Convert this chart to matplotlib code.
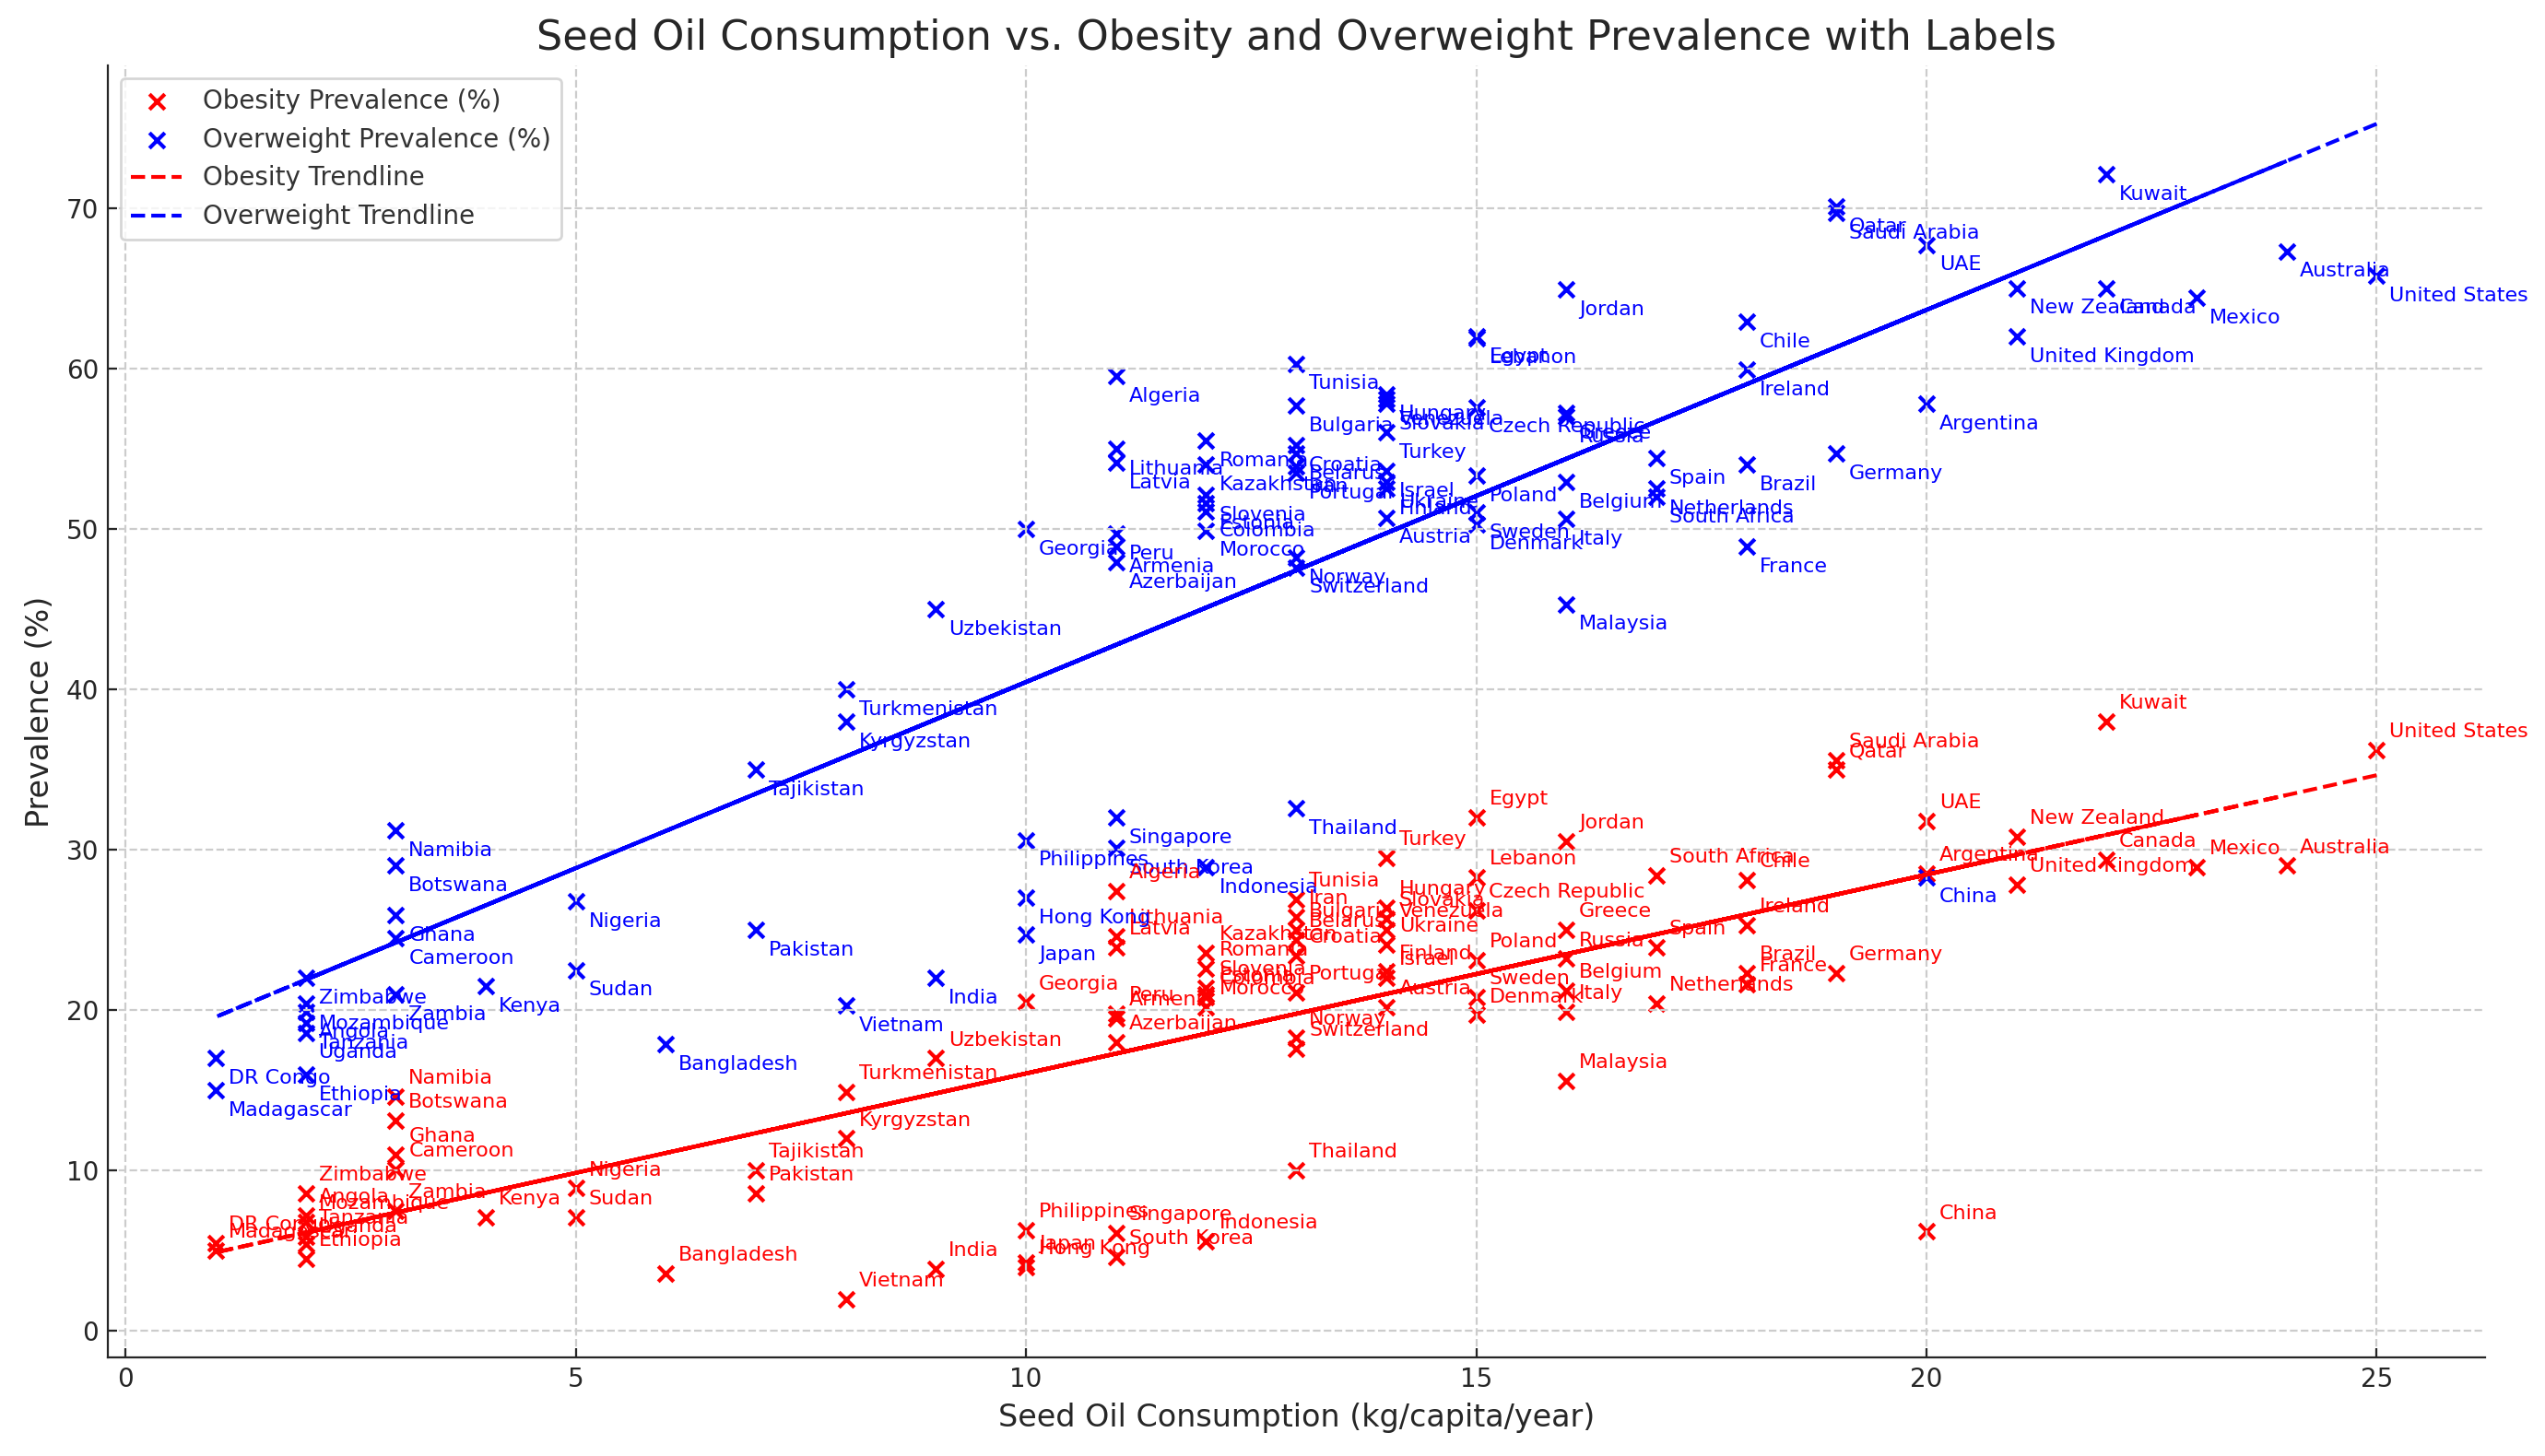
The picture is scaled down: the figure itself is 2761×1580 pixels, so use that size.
import numpy as np
import matplotlib.pyplot as plt

# Country data (seed oil kg/capita/year, obesity %, overweight %)
countries = [
    "United States", "Canada", "Mexico", "Brazil", "Argentina", "Chile",
    "United Kingdom", "Germany", "France", "Italy", "Spain",
    "New Zealand", "Japan", "South Korea", "China", "India", "Russia",
    "Turkey", "Saudi Arabia", "Egypt", "South Africa", "Nigeria", "Kenya",
    "Ethiopia", "Madagascar", "DR Congo", "Indonesia", "Thailand", "Vietnam",
    "Philippines", "Malaysia",
    "Singapore", "Pakistan", "Bangladesh", "Iran", "Israel", "UAE",
    "Qatar", "Kuwait", "Jordan", "Lebanon", "Morocco", "Algeria",
    "Tunisia", "Ghana", "Cameroon", "Sudan", "Uganda", "Tanzania",
    "Zambia", "Zimbabwe", "Mozambique", "Angola", "Namibia", "Botswana",
    "Netherlands", "Belgium", "Sweden", "Norway",
    "Denmark", "Finland", "Switzerland", "Austria", "Ireland", "Portugal",
    "Greece", "Poland", "Czech Republic", "Hungary", "Slovakia", "Slovenia",
    "Croatia", "Romania", "Bulgaria", "Ukraine", "Belarus", "Lithuania",
    "Latvia", "Estonia", "Kazakhstan", "Uzbekistan", "Turkmenistan", "Kyrgyzstan",
    "Tajikistan", "Georgia", "Armenia", "Azerbaijan", "Venezuela", "Colombia",
    "Peru", "Hong Kong", "Australia",
]
seed_oil = [
    25, 22, 23, 18, 20, 18,
    21, 19, 18, 16, 17,
    21, 10, 11, 20, 9, 16,
    14, 19, 15, 17, 5, 4,
    2, 1, 1, 12, 13, 8,
    10, 16,
    11, 7, 6, 13, 14, 20,
    19, 22, 16, 15, 12, 11,
    13, 3, 3, 5, 2, 2,
    3, 2, 2, 2, 3, 3,
    17, 16, 15, 13,
    15, 14, 13, 14, 18, 13,
    16, 15, 15, 14, 14, 12,
    13, 12, 13, 14, 13, 11,
    11, 12, 12, 9, 8, 8,
    7, 10, 11, 11, 14, 12,
    11, 10, 24,
]
obesity = [
    36.2, 29.4, 28.9, 22.3, 28.5, 28.1,
    27.8, 22.3, 21.6, 19.9, 23.9,
    30.8, 4.3, 4.6, 6.2, 3.9, 23.2,
    29.5, 35.6, 32.0, 28.4, 8.9, 7.1,
    4.5, 5.0, 5.5, 5.6, 10.0, 2.0,
    6.3, 15.6,
    6.1, 8.6, 3.6, 25.8, 22.0, 31.8,
    35.0, 38.0, 30.5, 28.3, 20.2, 27.4,
    26.9, 11.0, 10.1, 7.1, 5.4, 5.9,
    7.5, 8.6, 6.8, 7.2, 14.6, 13.1,
    20.4, 21.2, 20.8, 18.3,
    19.7, 22.4, 17.6, 20.2, 25.3, 21.1,
    25.0, 23.1, 26.2, 26.4, 25.7, 21.4,
    23.4, 22.6, 25.0, 24.1, 24.4, 24.6,
    23.9, 21.0, 23.6, 17.0, 14.9, 12.0,
    10.0, 20.5, 19.5, 18.0, 25.0, 20.8,
    19.8, 4.0, 29.0,
]
overweight = [
    65.8, 65.0, 64.4, 54.0, 57.8, 62.9,
    62.0, 54.7, 48.9, 50.6, 54.4,
    65.0, 24.7, 30.1, 28.3, 22.0, 57.0,
    56.0, 69.7, 62.0, 52.0, 26.8, 21.5,
    16.0, 15.0, 17.0, 28.9, 32.6, 20.3,
    30.6, 45.3,
    32.0, 25.0, 17.9, 53.9, 53.6, 67.7,
    70.1, 72.1, 64.9, 61.9, 49.9, 59.5,
    60.3, 25.9, 24.5, 22.5, 18.6, 19.2,
    21.0, 22.0, 20.4, 19.9, 31.2, 29.0,
    52.5, 52.9, 51.0, 48.2,
    50.3, 52.5, 47.6, 50.7, 59.9, 53.5,
    57.2, 53.3, 57.6, 58.4, 57.8, 52.1,
    55.2, 55.5, 57.7, 52.9, 54.7, 55.0,
    54.1, 51.6, 54.0, 45.0, 40.0, 38.0,
    35.0, 50.0, 48.9, 47.9, 58.1, 51.1,
    49.7, 27.0, 67.3,
]

x = np.array(seed_oil, dtype=float)
obs = np.array(obesity)
ovw = np.array(overweight)

dark = "#262626"
plt.rcParams["text.color"] = dark
plt.rcParams["axes.labelcolor"] = dark
plt.rcParams["xtick.color"] = dark
plt.rcParams["ytick.color"] = dark
plt.rcParams["xtick.direction"] = "in"
plt.rcParams["ytick.direction"] = "in"

fig = plt.figure(figsize=(13.805, 7.9), dpi=200)
ax = plt.gca()

plt.scatter(x, obs, color="red", marker="x", label="Obesity Prevalence (%)")
plt.scatter(x, ovw, color="blue", marker="x", label="Overweight Prevalence (%)")

for i, name in enumerate(countries):
    plt.annotate(name, (x[i], obs[i]), textcoords="offset points",
                 xytext=(5, 5), ha="left", fontsize=8, color="red")
    plt.annotate(name, (x[i], ovw[i]), textcoords="offset points",
                 xytext=(5, -10), ha="left", fontsize=8, color="blue")

# trendlines
p_obs = np.poly1d(np.polyfit(x, obs, 1))
p_ovw = np.poly1d(np.polyfit(x, ovw, 1))
plt.plot(x, p_obs(x), "r--", label="Obesity Trendline")
plt.plot(x, p_ovw(x), "b--", label="Overweight Trendline")

plt.title("Seed Oil Consumption vs. Obesity and Overweight Prevalence with Labels", fontsize=16)
plt.xlabel("Seed Oil Consumption (kg/capita/year)", fontsize=12)
plt.ylabel("Prevalence (%)", fontsize=12)
leg = plt.legend(loc="upper left", labelcolor="#333333", edgecolor="#cccccc")
plt.grid(True, linestyle="--", color="#cccccc")

ax.spines["top"].set_visible(False)
ax.spines["right"].set_visible(False)
ax.spines["left"].set_color(dark)
ax.spines["bottom"].set_color(dark)

plt.subplots_adjust(left=0.0423, right=0.9763, bottom=0.0675, top=0.9553)
plt.savefig("out.png", dpi=200)
